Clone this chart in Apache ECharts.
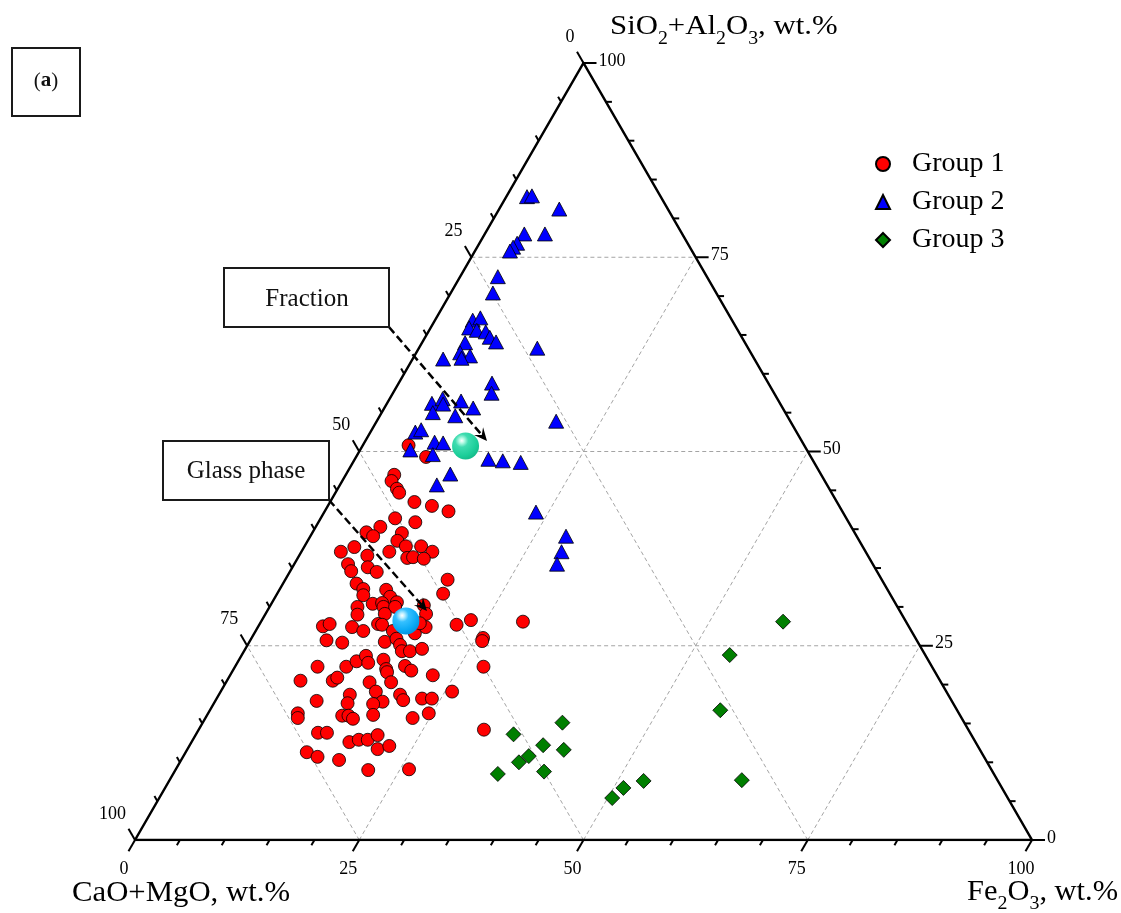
<!DOCTYPE html>
<html>
<head>
<meta charset="utf-8">
<script src="https://cdn.jsdelivr.net/npm/echarts@6/dist/echarts.min.js"></script>
<style>
html,body{margin:0;padding:0;background:#fff;}
#chart{width:1121px;height:913px;}
</style>
</head>
<body>
<div id="chart"></div>
<script>
// Compositions in wt.%: [CaO+MgO, SiO2+Al2O3, Fe2O3]
const group1 = [
  [44.1,50.8,5.1],[42.9,49.3,7.8],[47.6,47.0,5.4],[48.3,46.2,5.5],[48.2,45.2,6.6],[48.2,44.7,7.1],
  [47.1,43.5,9.4],[45.4,43.0,11.6],[43.9,42.3,13.8],[50.3,41.4,8.3],[48.3,40.9,10.8],[52.5,40.3,7.2],
  [54.4,39.6,6.0],[53.9,39.1,7.0],[50.5,39.5,10.0],[51.5,38.5,10.0],[50.9,37.8,11.3],[49.2,37.8,13.0],
  [48.3,37.1,14.6],[56.7,37.7,5.6],[58.5,37.1,4.4],[55.8,36.6,7.6],[53.1,37.1,9.8],[51.5,36.3,12.2],
  [50.8,36.4,12.8],[49.7,36.2,14.1],[58.5,35.5,6.0],[58.6,34.6,6.8],[56.5,35.1,8.4],[55.8,34.5,9.7],
  [48.4,33.5,18.1],[49.8,31.7,18.5],[58.8,33.0,8.2],[58.4,32.3,9.3],[58.8,31.5,9.7],[55.9,32.2,11.9],
  [55.9,31.3,12.8],[55.5,30.6,13.9],[60.2,30.0,9.8],[58.3,30.4,11.3],[57.2,30.5,12.3],[57.3,30.0,12.7],
  [56.0,30.0,14.0],[52.7,30.2,17.1],[60.7,29.0,10.3],[57.6,29.1,13.3],[53.0,29.1,17.9],[65.3,27.5,7.2],
  [64.4,27.8,7.8],[62.1,27.4,10.5],[61.1,26.9,12.0],[59.0,27.8,13.2],[58.6,27.7,13.7],[57.8,26.9,15.3],
  [55.5,26.6,17.9],[53.9,27.4,18.7],[54.3,27.9,17.8],[50.3,27.7,22.0],[48.4,28.3,23.3],[42.7,28.1,29.2],
  [65.8,25.7,8.5],[64.2,25.4,10.4],[59.4,25.5,15.1],[57.9,25.9,16.2],[57.9,25.1,17.0],[58.1,24.3,17.6],
  [57.2,24.3,18.5],[55.7,24.6,19.7],[48.2,26.0,25.8],[48.5,25.6,25.9],[50.0,22.3,27.7],[68.5,22.3,9.2],
  [65.3,22.3,12.4],[63.8,23.0,13.2],[62.4,23.7,13.9],[62.6,22.8,14.6],[60.7,23.2,16.1],[61.0,22.0,17.0],
  [61.1,21.6,17.3],[58.7,22.4,18.9],[58.3,21.8,19.9],[56.2,21.2,22.6],[71.3,20.5,8.2],[67.7,20.5,11.8],
  [67.0,20.9,12.1],[63.7,20.3,16.0],[61.3,20.3,18.4],[63.6,19.1,17.3],[66.7,18.7,14.6],[67.5,17.6,14.9],
  [70.8,17.9,11.3],[63.5,17.8,18.7],[64.7,17.5,17.8],[61.1,18.7,20.2],[61.1,18.0,20.9],[58.9,18.2,22.9],
  [57.8,18.2,24.0],[55.1,19.1,25.8],[73.7,16.3,10.0],[74.0,15.7,10.3],[68.9,16.0,15.1],[68.2,16.0,15.8],
  [67.9,15.6,16.5],[65.4,16.1,18.5],[61.2,15.7,23.1],[59.1,16.3,24.6],[72.7,13.8,13.5],[71.7,13.8,14.5],
  [69.8,12.6,17.6],[68.6,12.9,18.5],[67.6,12.9,19.5],[66.2,13.5,20.3],[67.1,11.7,21.2],[65.6,12.1,22.3],
  [75.2,11.3,13.5],[74.3,10.7,15.0],[72.1,10.3,17.6],[69.5,9.0,21.5],[64.9,9.1,26.0],[54.0,14.2,31.8]
];
const group2 = [
  [14.9,82.8,2.3],[14.3,82.9,2.8],[12.1,81.2,6.7],[17.6,78.0,4.4],[15.3,78.0,6.7],[19.0,76.8,4.2],
  [19.7,76.3,4.0],[20.3,75.8,3.9],[23.3,72.5,4.2],[24.9,70.4,4.7],[28.9,66.9,4.2],[27.9,67.2,4.9],
  [29.8,65.9,4.3],[29.1,65.6,5.3],[28.2,65.4,6.4],[28.1,64.7,7.2],[27.7,64.1,8.2],[31.2,64.0,4.8],
  [32.4,62.7,4.9],[31.5,62.3,6.2],[32.6,62.0,5.4],[34.7,61.9,3.4],[23.5,63.3,13.2],[30.8,58.8,10.4],
  [31.5,57.5,11.0],[38.8,56.2,5.0],[37.3,56.8,5.9],[37.6,56.1,6.3],[35.4,56.5,8.1],[34.5,55.6,9.9],
  [39.3,55.0,5.7],[37.0,54.6,8.4],[26.1,53.9,20.0],[42.5,52.5,5.0],[41.7,52.8,5.5],[41.0,51.2,7.8],
  [40.1,51.1,8.8],[44.2,50.2,5.6],[42.0,49.6,8.4],[36.1,49.0,14.9],[34.6,48.8,16.6],[32.7,48.6,18.7],
  [41.3,47.1,11.6],[43.5,45.7,10.8],[34.2,42.2,23.6],[32.4,39.1,28.5],[33.9,37.1,29.0],[35.2,35.5,29.3]
];
const group3 = [
  [13.7,28.1,58.2],[21.8,23.8,54.4],[26.4,16.7,56.9],[28.5,7.7,63.8],[44.8,15.1,40.1],[51.0,13.6,35.4],
  [48.4,12.2,39.4],[46.4,11.6,42.0],[50.7,10.8,38.5],[52.2,10.0,37.8],[50.0,8.8,41.2],[55.3,8.5,36.2],
  [39.5,7.6,52.9],[42.2,6.7,51.1],[44.1,5.4,50.5]
];
const fractionPoint = [[37.8,50.7,11.5]];
const glassPhasePoint = [[55.7,28.2,16.1]];

const minorTicks = [0,5,10,15,20,25,30,35,40,45,50,55,60,65,70,75,80,85,90,95,100];
const majorTicks = [0,25,50,75,100];
const gridValues = [25,50,75];
const legendNames = ['Group 1','Group 2','Group 3'];
const vertices = [[100,0,0],[0,0,100],[0,100,0],[100,0,0]];

// ternary -> cartesian data space (x: 0..100 along base, y: SiO2+Al2O3 height 0..100)
function toXY(c) {
  const t = c[0] + c[1] + c[2];
  const s = c[1] / t * 100, f = c[2] / t * 100;
  return [f + s / 2, s];
}

const SERIF = '"Liberation Serif","Times New Roman",serif';

function renderTick(params, api) {
  const axis = api.value(0), v = api.value(1);
  let comp, dir;
  if (axis === 0) { comp = [100 - v, 0, v]; dir = [-0.5, 0.866]; }        // Fe2O3 (bottom)
  else if (axis === 1) { comp = [v, 100 - v, 0]; dir = [-0.5, -0.866]; }  // CaO+MgO (left)
  else { comp = [0, v, 100 - v]; dir = [1, 0]; }                          // SiO2+Al2O3 (right)
  const p = api.coord(toXY(comp));
  const major = majorTicks.indexOf(v) >= 0;
  const len = major ? 13 : 6;
  const children = [{
    type: 'line',
    shape: {x1: p[0], y1: p[1], x2: p[0] + dir[0] * len, y2: p[1] + dir[1] * len},
    style: {stroke: '#000', lineWidth: 2}
  }];
  if (major) {
    let tx, ty, align;
    if (axis === 0) { tx = p[0] - 11; ty = p[1] + 29; align = 'center'; }
    else if (axis === 1) { tx = p[0] - 9; ty = p[1] - 26; align = 'right'; }
    else { tx = p[0] + 15; ty = p[1] - 2; align = 'left'; }
    children.push({
      type: 'text', x: tx, y: ty,
      style: {text: String(v), fill: '#000', font: '18px ' + SERIF, align: align, verticalAlign: 'middle'}
    });
  }
  return {type: 'group', children: children};
}

function renderGrid(params, api) {
  const fam = api.value(0), v = api.value(1);
  let a, b;
  if (fam === 0) { a = [100 - v, v, 0]; b = [0, v, 100 - v]; }
  else if (fam === 1) { a = [100 - v, 0, v]; b = [0, 100 - v, v]; }
  else { a = [v, 0, 100 - v]; b = [v, 100 - v, 0]; }
  const p1 = api.coord(toXY(a)), p2 = api.coord(toXY(b));
  return {
    type: 'line',
    shape: {x1: p1[0], y1: p1[1], x2: p2[0], y2: p2[1]},
    style: {stroke: '#a4a4a4', lineWidth: 1, lineDash: [4, 3]}
  };
}

const tickData = [];
[0, 1, 2].forEach(a => minorTicks.forEach(v => tickData.push([a, v])));
const gridData = [];
[0, 1, 2].forEach(f => gridValues.forEach(v => gridData.push([f, v])));

function sphere(c1, c2, c3, c4) {
  return new echarts.graphic.RadialGradient(0.36, 0.3, 0.75, [
    {offset: 0, color: '#ffffff'},
    {offset: 0.12, color: c1},
    {offset: 0.32, color: c2},
    {offset: 0.75, color: c3},
    {offset: 1, color: c4}
  ]);
}

function arrow(x1, y1, x2, y2) {
  const dx = x2 - x1, dy = y2 - y1, L = Math.sqrt(dx * dx + dy * dy);
  const ux = dx / L, uy = dy / L, nx = -uy, ny = ux;
  const bx = x2 - ux * 13, by = y2 - uy * 13;
  return [
    {type: 'line', z: 50, shape: {x1: x1, y1: y1, x2: x2 - ux * 8, y2: y2 - uy * 8},
     style: {stroke: '#000', lineWidth: 2.5, lineDash: [8, 4]}},
    {type: 'polygon', z: 51, shape: {points: [[x2, y2], [bx + nx * 6, by + ny * 6], [x2 - ux * 8, y2 - uy * 8], [bx - nx * 6, by - ny * 6]]},
     style: {fill: '#000'}}
  ];
}

function richTitle(x, y, parts, size, subSize, scale) {
  let txt = '';
  parts.forEach(p => { txt += p[1] ? '{s|' + p[0] + '}' : '{m|' + p[0] + '}'; });
  return {
    type: 'text', x: x, y: y, scaleX: scale, z: 60,
    style: {
      text: txt, align: 'left', verticalAlign: 'top',
      rich: {
        m: {fontSize: size, fontFamily: SERIF, fill: '#000', verticalAlign: 'top'},
        s: {fontSize: subSize, fontFamily: SERIF, fill: '#000', verticalAlign: 'top', padding: [Math.round(size * 0.6), 0, 0, 0]}
      }
    }
  };
}

const chart = echarts.init(document.getElementById('chart'), null, {renderer: 'canvas'});

const graphics = [
  // (a) panel label
  {type: 'rect', z: 60, shape: {x: 12, y: 48, width: 68, height: 68}, style: {fill: 'none', stroke: '#1a1a1a', lineWidth: 2}},
  {type: 'text', z: 60, x: 46, y: 81, style: {
    text: '{n|(}{b|a}{n|)}', align: 'center', verticalAlign: 'middle',
    rich: {n: {fontSize: 21, fontFamily: SERIF, fill: '#111'}, b: {fontSize: 21, fontFamily: SERIF, fontWeight: 'bold', fill: '#111'}}
  }},
  // annotation boxes
  {type: 'rect', z: 60, shape: {x: 224, y: 268, width: 165, height: 59}, style: {fill: '#fff', stroke: '#1a1a1a', lineWidth: 2}},
  {type: 'text', z: 61, x: 307, y: 299, style: {text: 'Fraction', font: '25px ' + SERIF, fill: '#111', align: 'center', verticalAlign: 'middle'}},
  {type: 'rect', z: 60, shape: {x: 163, y: 441, width: 166, height: 59}, style: {fill: '#fff', stroke: '#1a1a1a', lineWidth: 2}},
  {type: 'text', z: 61, x: 246, y: 471, style: {text: 'Glass phase', font: '25px ' + SERIF, fill: '#111', align: 'center', verticalAlign: 'middle'}},
  // axis titles
  richTitle(610, 13, [['SiO'], ['2', 1], ['+Al'], ['2', 1], ['O'], ['3', 1], [', wt.%']], 28, 18, 1.1),
  {type: 'text', z: 60, x: 72, y: 893, scaleX: 1.06, style: {text: 'CaO+MgO, wt.%', font: '29px ' + SERIF, fill: '#000', align: 'left', verticalAlign: 'middle'}},
  richTitle(967, 878, [['Fe'], ['2', 1], ['O'], ['3', 1], [', wt.%']], 29, 19, 1.05)
].concat(arrow(389, 327, 487, 441)).concat(arrow(329, 500, 427, 611));

const option = {
  animation: false,
  backgroundColor: '#fff',
  grid: {left: 135, top: 63, width: 897, height: 777, show: false},
  xAxis: {type: 'value', min: 0, max: 100, show: false},
  yAxis: {type: 'value', min: 0, max: 100, show: false},
  legend: {
    data: legendNames, orient: 'vertical', left: 870, top: 145,
    itemWidth: 14, itemHeight: 14, itemGap: 10, selectedMode: false,
    textStyle: {fontFamily: SERIF, fontSize: 28, color: '#000', lineHeight: 28, padding: [0, 0, 0, 17]}
  },
  graphic: {elements: graphics},
  series: [
    {type: 'custom', name: 'grid', coordinateSystem: 'cartesian2d', renderItem: renderGrid, data: gridData, z: 1, silent: true},
    {type: 'line', name: 'frame', data: vertices.map(toXY), symbol: 'none', z: 2, silent: true,
     lineStyle: {color: '#000', width: 2.5, join: 'miter'}},
    {type: 'custom', name: 'ticks', coordinateSystem: 'cartesian2d', renderItem: renderTick, data: tickData, z: 2, silent: true},
    {type: 'scatter', name: 'Group 1', data: group1.map(toXY), symbol: 'circle', symbolSize: 13, z: 3,
     itemStyle: {color: '#ff0000', borderColor: '#000', borderWidth: 0.8, opacity: 1}},
    {type: 'scatter', name: 'Group 2', data: group2.map(toXY), symbol: 'triangle', symbolSize: [15, 14], z: 4,
     itemStyle: {color: '#0000ff', borderColor: '#000', borderWidth: 0.8, opacity: 1}},
    {type: 'scatter', name: 'Group 3', data: group3.map(toXY), symbol: 'diamond', symbolSize: 15, z: 5,
     itemStyle: {color: '#007f00', borderColor: '#000', borderWidth: 0.8, opacity: 1}},
    {type: 'scatter', name: 'Fraction', data: fractionPoint.map(toXY), symbol: 'circle', symbolSize: 27, z: 6,
     itemStyle: {color: sphere('#b8fbe6', '#3fdcb0', '#1cce99', '#14b888'), opacity: 1}},
    {type: 'scatter', name: 'Glass phase', data: glassPhasePoint.map(toXY), symbol: 'circle', symbolSize: 27, z: 6,
     itemStyle: {color: sphere('#bdeeff', '#35c0ff', '#08a8f4', '#0592dc'), opacity: 1}}
  ]
};
chart.setOption(option);
</script>
</body>
</html>
